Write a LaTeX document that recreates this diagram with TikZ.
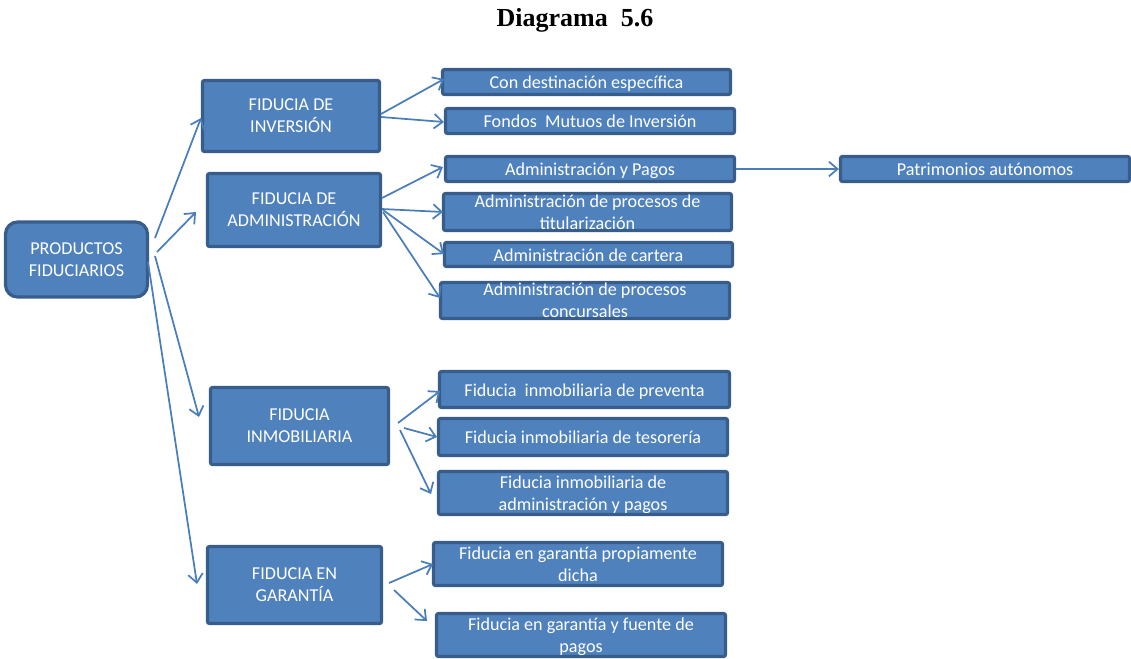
\documentclass[tikz,border=0pt]{standalone}
\usepackage{fontspec}
\setmainfont{Carlito}
\newfontfamily\titlefont{Liberation Serif}
\usetikzlibrary{arrows.meta,calc}
\definecolor{boxfill}{HTML}{4F81BD}
\definecolor{boxline}{HTML}{385D8A}
\definecolor{arrcol}{HTML}{4A7EBB}
\begin{document}
\begin{tikzpicture}[x=0.75pt,y=-0.75pt,
  box/.style={draw=boxline, fill=boxfill, line width=2.4pt, rounded corners=1.5pt,
    text=white, align=center, inner sep=0pt,
    font=\fontsize{13.6}{16.5}\selectfont},
  onebox/.style={box, text height=10.2pt, text depth=0pt},
  twobox/.style={box, text depth=0pt},
  bigbox/.style={box, text depth=-3pt},
  rootbox/.style={box, rounded corners=9pt, text depth=-1.5pt},
  arrow/.style={draw=arrcol, line width=1.3pt, -{Straight Barb[length=6.5pt,width=11pt]}}]
\useasboundingbox (0,0) rectangle (1131,658);

\node[font=\titlefont\bfseries\fontsize{19.5}{22}\selectfont] (title) at (575,20) {Diagrama\ \ 5.6};

\node[rootbox, minimum width=106.5pt, minimum height=56.25pt] (prod) at (76.5,259.5) {PRODUCTOS\\FIDUCIARIOS};

\node[bigbox, minimum width=132.75pt, minimum height=53.25pt] (inv) at (291,116) {FIDUCIA DE\\INVERSIÓN};
\node[bigbox, minimum width=129.75pt, minimum height=54.75pt] (adm) at (294,210) {FIDUCIA DE\\ADMINISTRACIÓN};
\node[bigbox, minimum width=133.5pt, minimum height=57.75pt] (inm) at (299.5,426) {FIDUCIA\\INMOBILIARIA};
\node[bigbox, minimum width=130.5pt, minimum height=57.75pt] (gar) at (294.5,585) {FIDUCIA EN\\GARANTÍA};

\node[onebox, minimum width=216pt, minimum height=18.75pt] (c1) at (586.5,82) {Con destinación específica};
\node[onebox, minimum width=216.75pt, minimum height=18.75pt] (c2) at (590,121) {Fondos\ \ Mutuos de Inversión};
\node[onebox, minimum width=216.75pt, minimum height=18.75pt] (c3) at (590,169) {Administración y Pagos};
\node[box, minimum width=216pt, minimum height=27.75pt] (c4) at (587.5,212) {Administración de procesos de\\titularización};
\node[onebox, minimum width=216pt, minimum height=18pt] (c5) at (588.5,254.5) {Administración de cartera};
\node[box, minimum width=216.75pt, minimum height=27pt] (c6) at (585,300.5) {Administración de procesos\\concursales};
\node[onebox, minimum width=216.75pt, minimum height=18.75pt] (pat) at (985,169) {Patrimonios autónomos};

\node[onebox, minimum width=217.5pt, minimum height=27pt] (i1) at (584.5,389.5) {Fiducia\ \ inmobiliaria de preventa};
\node[onebox, minimum width=216.75pt, minimum height=27.75pt] (i2) at (583,437) {Fiducia inmobiliaria de tesorería};
\node[twobox, minimum width=216.75pt, minimum height=32.25pt] (i3) at (583,493) {Fiducia inmobiliaria de\\administración y pagos};

\node[box, minimum width=216.75pt, minimum height=32.25pt] (g1) at (578,564) {Fiducia en garantía propiamente\\dicha};
\node[twobox, minimum width=216.75pt, minimum height=32.25pt] (g2) at (581,635) {Fiducia en garantía y fuente de\\pagos};

% root to categories
\draw[arrow] ([shift={(78.5,-21.5)}]prod.center) -- ([shift={(-90,2)}]inv.center);
\draw[arrow] ([shift={(80.5,-7.5)}]prod.center) -- ([shift={(-98,2)}]adm.center);
\draw[arrow] ([shift={(78.5,-3.5)}]prod.center) -- ([shift={(-100.5,-9)}]inm.center);
\draw[arrow] ([shift={(71.5,2.5)}]prod.center) -- ([shift={(-97.5,-1)}]gar.center);

% inversion
\draw[arrow] ([shift={(90,-2)}]inv.center) -- ([shift={(-142.5,-3)}]c1.center);
\draw[arrow] ([shift={(90,1)}]inv.center) -- ([shift={(-146,1)}]c2.center);

% administracion
\draw[arrow] ([shift={(88,-12)}]adm.center) -- ([shift={(-147,-2)}]c3.center);
\draw[arrow] ([shift={(88,-1)}]adm.center) -- ([shift={(-144.5,0)}]c4.center);
\draw[arrow] ([shift={(89,0)}]adm.center) -- ([shift={(-144.5,-0.5)}]c5.center);
\draw[arrow] ([shift={(89,2)}]adm.center) -- ([shift={(-145,-2.5)}]c6.center);
\draw[arrow] (c3.east) -- (pat.west);

% inmobiliaria
\draw[arrow] ([shift={(98.5,-3)}]inm.center) -- ([shift={(-144.5,1.5)}]i1.center);
\draw[arrow] ([shift={(104.5,2)}]inm.center) -- ([shift={(-146,0)}]i2.center);
\draw[arrow] ([shift={(100.5,4)}]inm.center) -- ([shift={(-152,1)}]i3.center);

% garantia
\draw[arrow] ([shift={(94.5,-2)}]gar.center) -- ([shift={(-145,0)}]g1.center);
\draw[arrow] ([shift={(99.5,5)}]gar.center) -- ([shift={(-154,-14)}]g2.center);
\end{tikzpicture}
\end{document}
